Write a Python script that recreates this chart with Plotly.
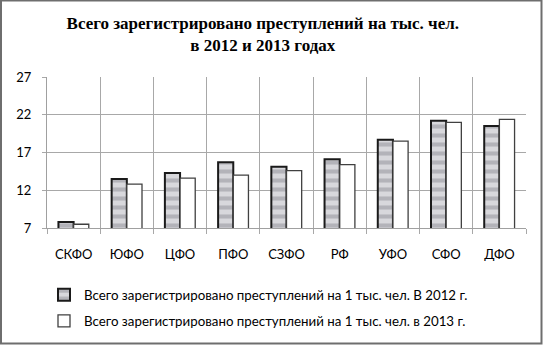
import plotly.graph_objects as go

# Crime rate per 1,000 population by federal district
districts = ["СКФО", "ЮФО", "ЦФО", "ПФО", "СЗФО", "РФ", "УФО", "СФО", "ДФО"]
rate_2012 = [7.8, 13.5, 14.3, 15.7, 15.1, 16.1, 18.7, 21.2, 20.5]
rate_2013 = [7.5, 12.8, 13.6, 14.0, 14.6, 15.4, 18.5, 21.0, 21.4]
y_ticks = [7, 12, 17, 22, 27]

name_2012 = "Всего зарегистрировано преступлений на 1 тыс. чел. В 2012 г."
name_2013 = "Всего зарегистрировано преступлений на 1 тыс. чел. в 2013 г."
title_text = "<b>Всего зарегистрировано преступлений на тыс. чел.<br>в 2012 и 2013 годах</b>"

W, H = 543, 345
ML, MR, MT, MB = 47, 17, 77, 117

fig = go.Figure()
fig.add_trace(go.Bar(
    x=districts, y=rate_2012, base=0, name=name_2012, legendgroup="a",
    marker=dict(
        color="#c4c4c8",
        line=dict(color="#1a1a1a", width=2),
        pattern=dict(shape="-", fgcolor="#8e8e96", bgcolor="#d8d8dc",
                     size=9, solidity=0.45),
    ),
))
fig.add_trace(go.Bar(
    x=districts, y=rate_2013, base=0, name=name_2013, legendgroup="b",
    marker=dict(color="white", line=dict(color="#404040", width=1.3)),
))

pw = W - ML - MR
ph = H - MT - MB
# outer frame around the whole chart
fig.add_shape(
    type="rect", xref="paper", yref="paper", layer="above",
    x0=(1 - ML) / pw, x1=(W - 1.5 - ML) / pw,
    y0=-(H - 1.5 - MT - ph) / ph, y1=1 + (MT - 0.5) / ph,
    line=dict(color="#6e6e6e", width=2),
)

fig.update_layout(
    width=W, height=H,
    margin=dict(l=ML, r=MR, t=MT, b=MB, autoexpand=False),
    paper_bgcolor="white", plot_bgcolor="white",
    barmode="group", bargap=0.43, bargroupgap=0.0,
    title=dict(text=title_text, x=0.484, xanchor="center", y=0.916, yanchor="top",
               font=dict(family="Liberation Serif", size=17, color="black")),
    font=dict(family="Lato", size=12, color="black"),
    legend=dict(orientation="v", x=(44 - ML) / pw, xanchor="left",
                y=-(279.5 - (H - MB)) / ph, yanchor="top",
                font=dict(family="Lato", size=13.3, color="black"),
                tracegroupgap=6, itemwidth=30, bgcolor="rgba(0,0,0,0)"),
    showlegend=True,
)
fig.update_xaxes(
    tickson="boundaries", showgrid=True, gridcolor="#a8a8a8", gridwidth=1,
    ticks="outside", ticklen=5, tickcolor="#a8a8a8",
    showline=True, linecolor="#a0a0a0", linewidth=1,
    tickfont=dict(family="Lato", size=13), ticklabelstandoff=14,
)
fig.update_yaxes(
    range=[7, 27], tickvals=y_ticks, showgrid=True, gridcolor="#a8a8a8",
    gridwidth=1, ticks="outside", ticklen=4, tickcolor="#a8a8a8",
    showline=True, linecolor="#a0a0a0", linewidth=1, zeroline=False,
    tickfont=dict(family="Lato", size=13), ticklabelstandoff=8,
)

fig.write_html("out.html")
